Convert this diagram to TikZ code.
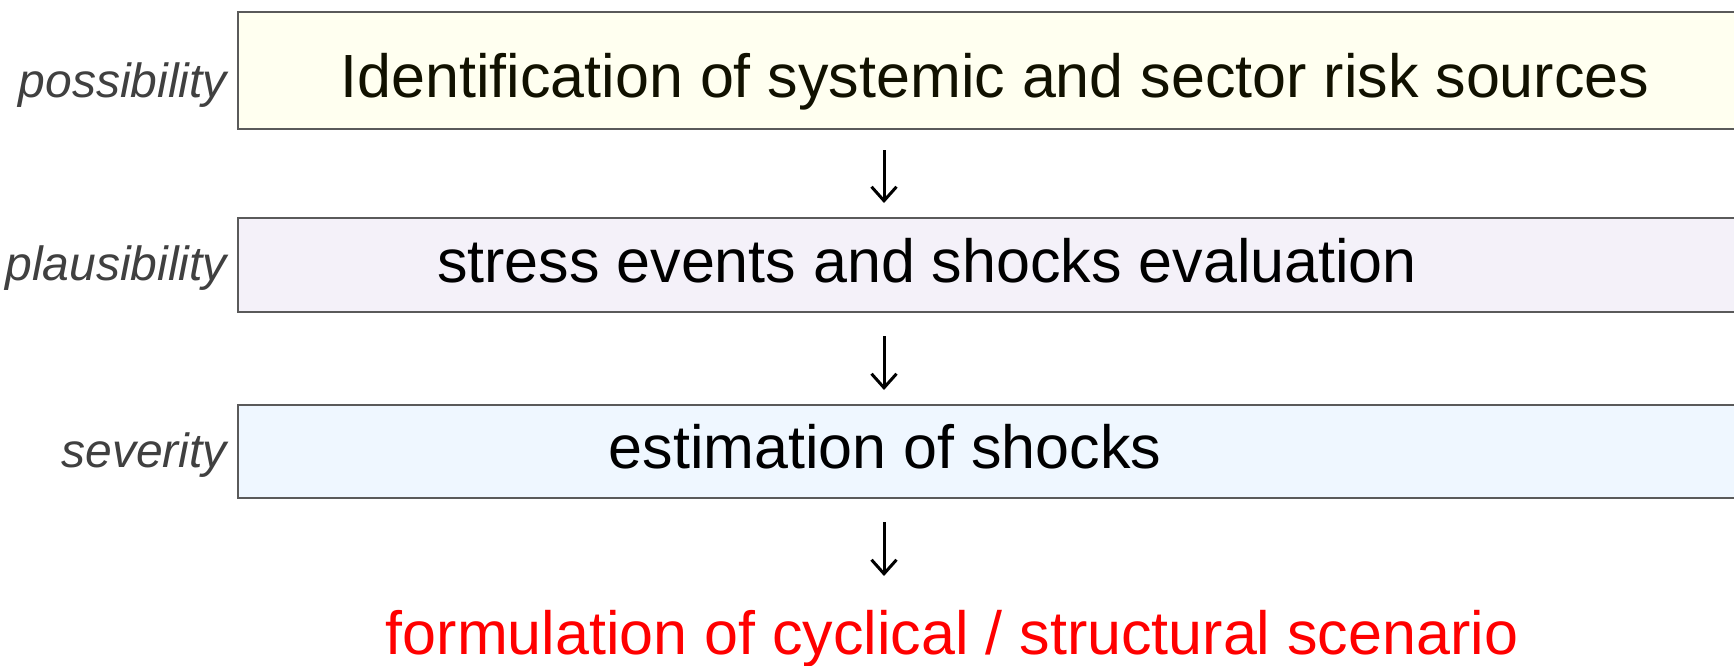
\documentclass[tikz,border=0pt]{standalone}
\usepackage{fontspec}
\setmainfont{Liberation Sans}
\usetikzlibrary{arrows.meta}
\definecolor{boxline}{HTML}{5A5A5A}
\definecolor{fillA}{HTML}{FFFFF0}
\definecolor{fillB}{HTML}{F4F1F9}
\definecolor{fillC}{HTML}{EFF7FF}
\definecolor{labelgrey}{HTML}{404040}
\definecolor{darktext}{HTML}{111100}
\definecolor{scenred}{HTML}{FF0000}
\tikzset{
  stagebox/.style={draw=boxline, line width=2pt, anchor=north west, minimum width=1520pt, inner sep=0pt},
  stagetext/.style={font=\fontsize{61}{64}\selectfont, inner sep=0pt, anchor=base},
  sidelabel/.style={font=\fontsize{48}{52}\selectfont\itshape, text=labelgrey, inner sep=0pt, anchor=base east},
  flow/.style={line width=3pt, -{Straight Barb[length=14pt,width=25pt,line width=3pt]}}
}
\begin{document}
\begin{tikzpicture}[x=1pt,y=-1pt]
\useasboundingbox (0,0) rectangle (1734,665);
\fill[white] (0,0) rectangle (1734,665);

% stage boxes (open to the right)
\node[stagebox, fill=fillA, minimum height=117pt] (b1) at (237,11) {};
\node[stagebox, fill=fillB, minimum height=94pt] (b2) at (237,217) {};
\node[stagebox, fill=fillC, minimum height=93pt] (b3) at (237,404) {};

% stage texts
\node[stagetext, text=darktext] (t1) at (995,97) {Identification of systemic and sector risk sources};
\node[stagetext] (t2) at (927,282) {stress events and shocks evaluation};
\node[stagetext] (t3) at (885,468) {estimation of shocks};
\node[stagetext, text=scenred] (t4) at (952,654) {formulation of cyclical / structural scenario};

% side labels
\node[sidelabel] (l1) at (227,97) {possibility};
\node[sidelabel] (l2) at (227,280) {plausibility};
\node[sidelabel] (l3) at (227,467) {severity};

% flow arrows
\coordinate (a1s) at (884,150);
\coordinate (a1e) at (884,203);
\coordinate (a2s) at (884,336);
\coordinate (a2e) at (884,390);
\coordinate (a3s) at (884,522);
\coordinate (a3e) at (884,576);
\draw[flow] (a1s) -- (a1e);
\draw[flow] (a2s) -- (a2e);
\draw[flow] (a3s) -- (a3e);
\end{tikzpicture}
\end{document}
